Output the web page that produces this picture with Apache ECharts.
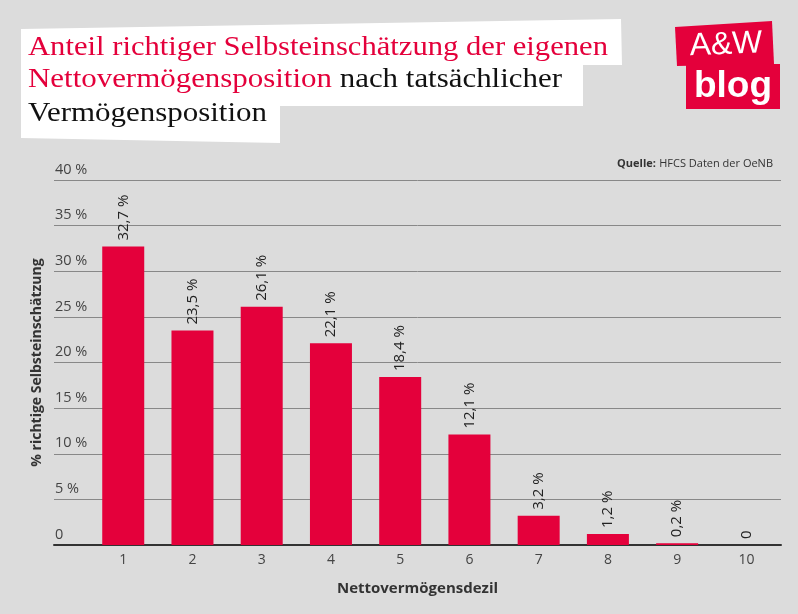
<!DOCTYPE html>
<html><head><meta charset="utf-8">
<script src="https://cdn.jsdelivr.net/npm/echarts@6/dist/echarts.min.js"></script>
<style>html,body{margin:0;padding:0;background:#dcdcdc}#c{width:798px;height:614px}</style>
</head><body><div id="c"></div>
<script>
const categories = [1, 2, 3, 4, 5, 6, 7, 8, 9, 10];
const values = [32.7, 23.5, 26.1, 22.1, 18.4, 12.1, 3.2, 1.2, 0.2, 0];
const valueLabels = ['32,7 %', '23,5 %', '26,1 %', '22,1 %', '18,4 %', '12,1 %', '3,2 %', '1,2 %', '0,2 %', '0'];
const yTicks = [0, 5, 10, 15, 20, 25, 30, 35, 40];

const RED = '#e4003b';
const chart = echarts.init(document.getElementById('c'));

function fitScale(text, font, target) {
  const ctx = document.createElement('canvas').getContext('2d');
  ctx.font = font;
  return target / ctx.measureText(text).width;
}
const TF = '28px "Liberation Serif"';
const s1 = fitScale('Anteil richtiger Selbsteinschätzung der eigenen', TF, 580);
const s2 = fitScale('Nettovermögensposition nach tatsächlicher', TF, 534);
const s3 = fitScale('Vermögensposition', TF, 239);

chart.setOption({
  backgroundColor: '#dcdcdc',
  animation: false,
  grid: { left: 54, right: 17, top: 180, bottom: 69 },
  xAxis: {
    type: 'value', min: 0, max: 10.5, interval: 1,
    name: 'Nettovermögensdezil', nameLocation: 'middle', nameGap: 36,
    nameTextStyle: { fontFamily: 'Open Sans', fontWeight: 'bold', fontSize: 15, color: '#333' },
    axisLine: { show: true, onZero: true, lineStyle: { color: '#333', width: 2 } },
    axisTick: { show: false },
    splitLine: { show: false },
    axisLabel: {
      margin: 8, fontFamily: 'Open Sans', fontSize: 14, color: '#444',
      formatter: v => (categories.indexOf(v) >= 0 ? String(v) : '')
    }
  },
  yAxis: {
    type: 'value', min: 0, max: 40, interval: 5,
    name: '% richtige Selbsteinschätzung', nameLocation: 'middle', nameGap: 9,
    nameTextStyle: { fontFamily: 'Open Sans', fontWeight: 'bold', fontSize: 14, color: '#333' },
    axisLine: { show: false }, axisTick: { show: false },
    splitLine: { lineStyle: { color: '#888', width: 1 } },
    axisLabel: {
      inside: true, margin: 1, verticalAlign: 'bottom', padding: [0, 0, 3, 0],
      fontFamily: 'Open Sans', fontSize: 14.5, color: '#444',
      formatter: v => (yTicks.indexOf(v) >= 0 ? (v === 0 ? '0' : v + ' %') : '')
    }
  },
  series: [{
    type: 'bar', barWidth: 42,
    itemStyle: { color: RED },
    data: categories.map((c, i) => [c, values[i]]),
    label: {
      show: true, position: 'top', rotate: 90, align: 'left', verticalAlign: 'middle',
      distance: 6, fontFamily: 'Open Sans', fontSize: 15, color: '#222',
      formatter: p => valueLabels[p.dataIndex]
    }
  }],
  graphic: [
    { type: 'polygon', shape: { points: [[21,29],[621,19],[622,65],[583,65],[583,106],[280,106],[280,143],[21,138]] },
      style: { fill: '#ffffff' } },
    { type: 'text', x: 28, y: 48, scaleX: s1,
      style: { text: 'Anteil richtiger Selbsteinschätzung der eigenen', font: TF, fill: RED, verticalAlign: 'middle' } },
    { type: 'text', x: 28, y: 80, scaleX: s2,
      style: { text: '{r|Nettovermögensposition} {b|nach tatsächlicher}', font: TF, verticalAlign: 'middle',
        rich: { r: { fill: RED, font: TF, color: RED }, b: { fill: '#111', font: TF, color: '#111' } } } },
    { type: 'text', x: 28, y: 114, scaleX: s3,
      style: { text: 'Vermögensposition', font: TF, fill: '#111', verticalAlign: 'middle' } },
    { type: 'polygon', shape: { points: [[675,27],[772,21],[774,64],[677,66]] }, style: { fill: RED } },
    { type: 'rect', shape: { x: 686, y: 64, width: 94, height: 45 }, style: { fill: RED } },
    { type: 'text', x: 726, y: 45, rotation: 0.04,
      style: { text: 'A&W', font: '32px "Liberation Sans"', fill: '#fff', align: 'center', verticalAlign: 'middle' } },
    { type: 'text', x: 733, y: 87,
      style: { text: 'blog', font: 'bold 37px "Liberation Sans"', fill: '#fff', align: 'center', verticalAlign: 'middle' } },
    { type: 'text', x: 773, y: 164,
      style: { text: '{b|Quelle:} {n|HFCS Daten der OeNB}', align: 'right', verticalAlign: 'middle',
        rich: { b: { fontFamily: 'Open Sans', fontWeight: 'bold', fontSize: 11, fill: '#333', color: '#333' },
                n: { fontFamily: 'Open Sans', fontSize: 11, fill: '#333', color: '#333' } } } }
  ]
});
</script></body></html>
